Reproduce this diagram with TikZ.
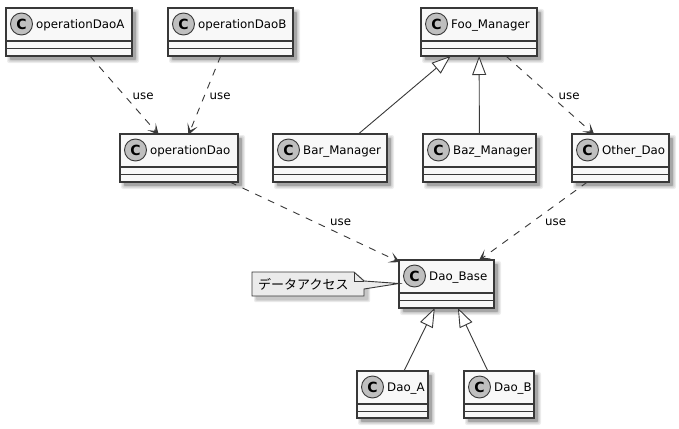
\documentclass[tikz,border=0pt]{standalone}
\usepackage{fontspec}
\setmainfont{DejaVu Sans}
\newfontfamily\cjkfont{Noto Sans CJK JP}
\usetikzlibrary{arrows.meta,calc}
\definecolor{umlline}{HTML}{383838}
\definecolor{umlfill}{HTML}{F8F8F8}
\definecolor{umlcirc}{HTML}{BFBFBF}
\definecolor{umlnote}{HTML}{EBEBEB}
\tikzset{
  x=1pt,y=-1pt,
  classbox/.style={draw=umlline,fill=umlfill,line width=1.2pt,rectangle,inner sep=0pt,outer sep=0pt,anchor=north west},
  classname/.style={font=\fontsize{11.8}{12}\selectfont,text=black,inner sep=0pt,anchor=base west},
  classcirc/.style={circle,draw=umlline,fill=umlcirc,line width=0.9pt,minimum size=22pt,inner sep=0pt,font=\fontsize{14}{14}\bfseries\selectfont},
  shadowlayer/.style={fill=black,opacity=0.07,draw=none},
  uses/.style={draw=umlline,line width=0.9pt,dash pattern=on 7pt off 7pt,-{Stealth[length=11pt,width=11pt,inset=6pt,line width=0.9pt,fill=umlline,sep=-1pt]}},
  extends/.style={draw=umlline,line width=0.9pt,{Triangle[open,length=19pt,width=14pt,fill=white]}-},
  edgelabel/.style={font=\fontsize{11.8}{12}\selectfont,text=black,inner sep=0pt,anchor=base west},
}
\newcommand{\softshadow}[4]{%
  \foreach \g in {0,1,2,3}{%
    \fill[shadowlayer,rounded corners=2pt] (#1+4-\g,#2+4-\g) rectangle (#3+4+\g,#4+4+\g);
  }%
  \fill[black,opacity=0.12] (#1+4,#2+4) rectangle (#3+4,#4+4);
}
% name, x1, y1, x2, y2, text
\newcommand{\umlclass}[6]{%
  \softshadow{#2}{#3}{#4}{#5}
  \node[classbox,minimum width=#4pt-#2pt,minimum height=#5pt-#3pt] (#1) at (#2,#3) {};
  \draw[umlline,line width=1.2pt] (#2,#3+33) -- (#4,#3+33) (#2,#3+40.5) -- (#4,#3+40.5);
  \node[classcirc] (#1c) at (#2+15.5,#3+16) {C};
  \node[classname] (#1t) at (#2+30,#3+20.5) {#6};
}
\begin{document}
\begin{tikzpicture}
\useasboundingbox (0,0) rectangle (679,428);
\fill[white] (0,0) rectangle (679,428);
\umlclass{opA}{6}{8}{132}{56}{operationDaoA}
\umlclass{opB}{168}{8}{293}{56}{operationDaoB}
\umlclass{opD}{120}{134}{238}{182}{operationDao}
\umlclass{foo}{421}{8}{537}{56}{Foo\_Manager}
\umlclass{bar}{273}{134}{387}{182}{Bar\_Manager}
\umlclass{baz}{423}{134}{536}{182}{Baz\_Manager}
\umlclass{oth}{572}{134}{669}{182}{Other\_Dao}
\umlclass{base}{399}{260}{494}{308}{Dao\_Base}
\umlclass{daoa}{357}{371}{428}{418}{Dao\_A}
\umlclass{daob}{464}{371}{534}{418}{Dao\_B}
% note
\foreach \g in {0,1,2}{%
  \fill[black,opacity=0.08,rounded corners=1pt] (256-\g,276-\g) -- (358,276-\g) -- (368+\g,285) -- (368+\g,300+\g) -- (256-\g,300+\g) -- cycle;
}
\draw[umlline,line width=0.9pt,fill=umlnote] (252,272) -- (354,272) -- (364,281) -- (399,283.5) -- (364,289) -- (364,296) -- (252,296) -- cycle;
\draw[umlline,line width=0.9pt] (354,272) -- (354,281) -- (364,281);
\node[font=\cjkfont\fontsize{13}{13}\selectfont,text=black,inner sep=0pt,anchor=base west] (note) at (258,289) {データアクセス};
% connectors
\draw[uses] (opA) -- (opD);
\draw[uses] (opB) -- (opD);
\draw[uses] (foo) -- (oth);
\draw[uses] (opD) -- (base);
\draw[uses] (oth) -- (base);
\draw[extends] (foo) -- (bar);
\draw[extends] (foo) -- (baz);
\draw[extends] (base) -- (daoa);
\draw[extends] (base) -- (daob);
% labels
\node[edgelabel] (l1) at (132.5,99) {use};
\node[edgelabel] (l2) at (209.5,99) {use};
\node[edgelabel] (l3) at (558.5,99) {use};
\node[edgelabel] (l4) at (330,225) {use};
\node[edgelabel] (l5) at (545,225) {use};
\end{tikzpicture}
\end{document}
